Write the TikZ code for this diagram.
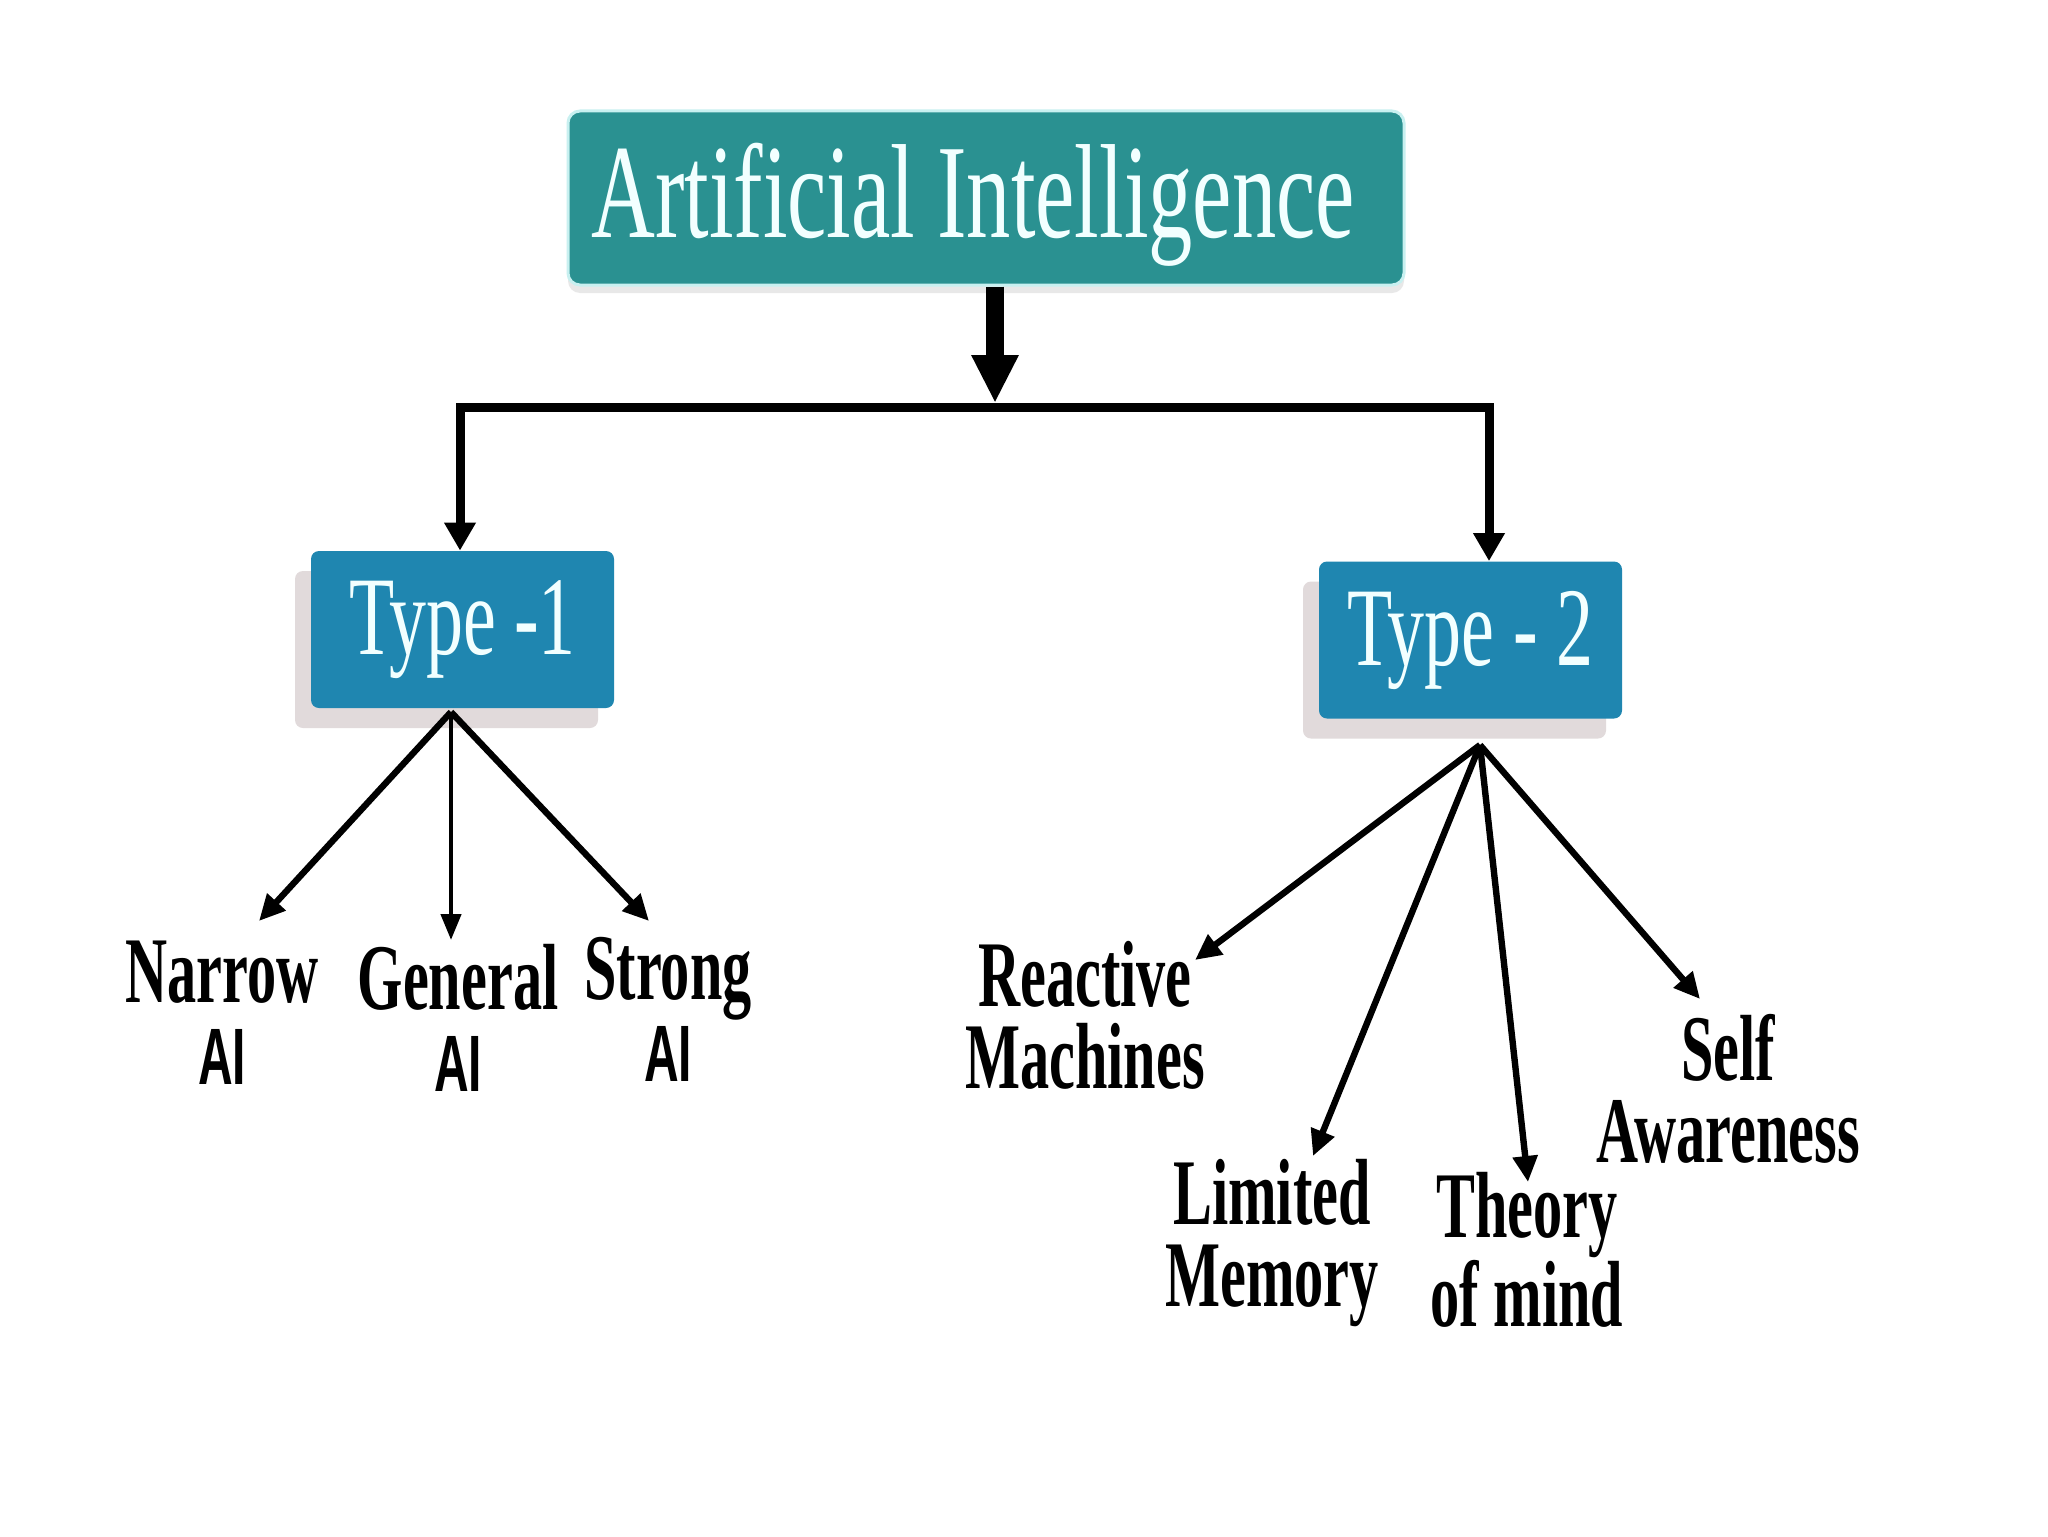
\documentclass[tikz,border=0pt]{standalone}
\usepackage{fontspec}
\setmainfont{Liberation Serif}
\newfontfamily\hdrfont[FakeStretch=0.66]{Liberation Serif}
\newfontfamily\lblfont[FakeStretch=0.62]{Liberation Serif}
\newfontfamily\aifont[FakeStretch=0.6]{Liberation Sans}
\usetikzlibrary{arrows.meta,shadows}
\definecolor{hdrteal}{HTML}{2A9191}
\definecolor{typeblue}{HTML}{1F86B0}
\definecolor{txtw}{HTML}{F2FFFF}
\definecolor{glow}{HTML}{C8F0F0}
\definecolor{shadowc}{HTML}{C4B6B8}
\tikzset{
  hdrbox/.style={rounded corners=6pt, fill=hdrteal, draw=glow, line width=1.5pt,
    minimum width=418pt, minimum height=87pt, inner sep=0pt, text=txtw,
    text height=54pt, text depth=14.6pt,
    font=\hdrfont\fontsize{67}{70}\selectfont,
    drop shadow={shadow xshift=0pt, shadow yshift=-4pt, fill=black!25, opacity=0.35}},
  typebox/.style={rounded corners=4pt, fill=typeblue, draw=none,
    minimum width=151.5pt, minimum height=78.5pt, inner sep=0pt, text=txtw,
    font=\hdrfont\fontsize{56}{60}\selectfont,
    drop shadow={shadow xshift=-8pt, shadow yshift=-10pt, fill=shadowc, opacity=0.5}},
  lbl/.style={anchor=base, align=center, inner sep=0pt, text=black,
    font=\lblfont\bfseries\fontsize{47}{41}\selectfont},
  mainarrow/.style={line width=9pt, -{Triangle[length=24pt,width=22pt]}},
  bus/.style={line width=4.5pt, line join=miter,
    {Triangle[length=14pt,width=15pt]}-{Triangle[length=14pt,width=15pt]}},
  branch/.style={line width=3.2pt, -{Triangle[length=13pt,width=12pt]}},
  thinbranch/.style={line width=2.2pt, -{Triangle[length=13pt,width=10pt]}}
}
\newcommand{\aitext}{{\aifont\bfseries\fontsize{40}{41}\selectfont AI}}
\begin{document}
\begin{tikzpicture}[x=0.5pt,y=-0.5pt]
\fill[white] (0,0) rectangle (2048,1536);
\useasboundingbox (0,0) rectangle (2048,1536);

% boxes
\node[hdrbox] (ai) at (986,198) {Artificial Intelligence\hspace*{13pt}};
\node[typebox] (t1) at (462.5,629.5) {Type -1};
\node[typebox] (t2) at (1470.5,640) {Type - 2};

% main connector
\coordinate (j0) at (995,407);
\coordinate (jl) at (460,407);
\coordinate (jr) at (1489,407);
\draw[mainarrow, shorten >=2pt] (ai.south -| j0) -- (j0);
\draw[bus] (t1.north -| jl) -- (jl) -- (jr) -- (t2.north -| jr);

% labels (anchored at baseline of last line)
\node[lbl] (narrow) at (222,1084) {Narrow\\\aitext};
\node[lbl] (general) at (458,1091) {General\\\aitext};
\node[lbl] (strong) at (668,1081) {Strong\\\aitext};
\node[lbl] (reactive) at (1085,1088) {Reactive\\Machines};
\node[lbl] (limited) at (1272,1306) {Limited\\Memory};
\node[lbl] (theory) at (1527,1326) {Theory\\of mind};
\node[lbl] (self) at (1728,1162) {Self\\Awareness};

% branch origins and tips
\coordinate (o1) at (451,712);
\coordinate (o2) at (1480,745);
\coordinate (nt) at (259,921);
\coordinate (gt) at (451,940);
\coordinate (st) at (649,921);
\coordinate (rt) at (1195,960);
\coordinate (lt) at (1313,1156);
\coordinate (tt) at (1528,1182);
\coordinate (at) at (1700,999);

\draw[branch] (o1) -- (nt);
\draw[thinbranch] (o1) -- (gt);
\draw[branch] (o1) -- (st);
\draw[branch] (o2) -- (rt);
\draw[branch] (o2) -- (lt);
\draw[branch] (o2) -- (tt);
\draw[branch] (o2) -- (at);
\end{tikzpicture}
\end{document}
